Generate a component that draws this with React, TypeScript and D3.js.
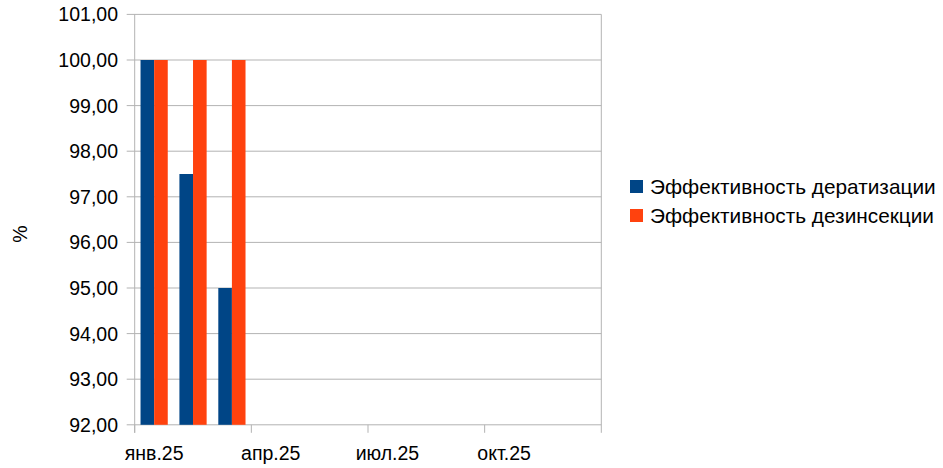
import { scaleBand, scaleLinear } from "d3";
import type { ReactElement } from "react";

const months = ["янв.25", "фев.25", "мар.25", "апр.25", "май.25", "июн.25", "июл.25", "авг.25", "сен.25", "окт.25", "ноя.25", "дек.25"];
const shownLabels = ["янв.25", "апр.25", "июл.25", "окт.25"];
const seriesNames = ["Эффективность дератизации", "Эффективность дезинсекции"];
const deratization: Array<number | null> = [100, 97.5, 95, null, null, null, null, null, null, null, null, null];
const disinsection: Array<number | null> = [100, 100, 100, null, null, null, null, null, null, null, null, null];
const yTicks = [92, 93, 94, 95, 96, 97, 98, 99, 100, 101];
const colors = ["#004586", "#ff420e"];

const W = 943;
const H = 468;
const LEFT = 134.7;
const RIGHT = 601.3;
const TOP = 14.4;
const BOTTOM = 424.8;
const GRID = "#b3b3b3";
const FONT = "'Liberation Sans', Arial, sans-serif";

const fmt = (v: number): string => v.toFixed(2).replace(".", ",");

export default function App(): ReactElement {
  const x = scaleBand<string>().domain(months).range([LEFT, RIGHT]).paddingInner(0.3).paddingOuter(0.15);
  const inner = scaleBand<number>().domain([0, 1]).range([0, x.bandwidth()]);
  const y = scaleLinear().domain([92, 101]).range([BOTTOM, TOP]);
  const series = [deratization, disinsection];
  const step = (RIGHT - LEFT) / months.length;

  return (
    <svg width={W} height={H} style={{ position: "absolute", left: 0, top: 0 }} fontFamily={FONT}>
      <rect width={W} height={H} fill="#fff" />
      {yTicks.map((t) => (
        <g key={t}>
          <line x1={LEFT - 8} x2={RIGHT} y1={y(t)} y2={y(t)} stroke={GRID} strokeWidth={1} />
          <text x={118} y={y(t) + 7} textAnchor="end" fontSize={19.5} fill="#000">
            {fmt(t)}
          </text>
        </g>
      ))}
      <line x1={LEFT} x2={LEFT} y1={TOP} y2={BOTTOM + 8} stroke={GRID} />
      <line x1={RIGHT} x2={RIGHT} y1={TOP} y2={BOTTOM + 8} stroke={GRID} />
      {[0, 3, 6, 9].map((i) => (
        <line key={i} x1={LEFT + i * step} x2={LEFT + i * step} y1={BOTTOM} y2={BOTTOM + 8} stroke={GRID} />
      ))}
      {series.map((vals, si) =>
        vals.map((v, mi) =>
          v === null ? null : (
            <rect
              key={`${si}-${mi}`}
              x={(x(months[mi]) ?? 0) + (inner(si) ?? 0)}
              y={y(v)}
              width={inner.bandwidth()}
              height={BOTTOM - y(v)}
              fill={colors[si]}
            />
          ),
        ),
      )}
      {shownLabels.map((m) => (
        <text key={m} x={(x(m) ?? 0) + x.bandwidth() / 2} y={460} textAnchor="middle" fontSize={19.5} fill="#000">
          {m}
        </text>
      ))}
      <text transform="translate(27,234) rotate(-90)" textAnchor="middle" fontSize={19.5} fill="#000">
        %
      </text>
      {seriesNames.map((n, i) => (
        <g key={n}>
          <rect x={630} y={180 + i * 29} width={13} height={13} fill={colors[i]} />
          <text x={650} y={193.5 + i * 29} fontSize={20.8} fill="#000">
            {n}
          </text>
        </g>
      ))}
    </svg>
  );
}
